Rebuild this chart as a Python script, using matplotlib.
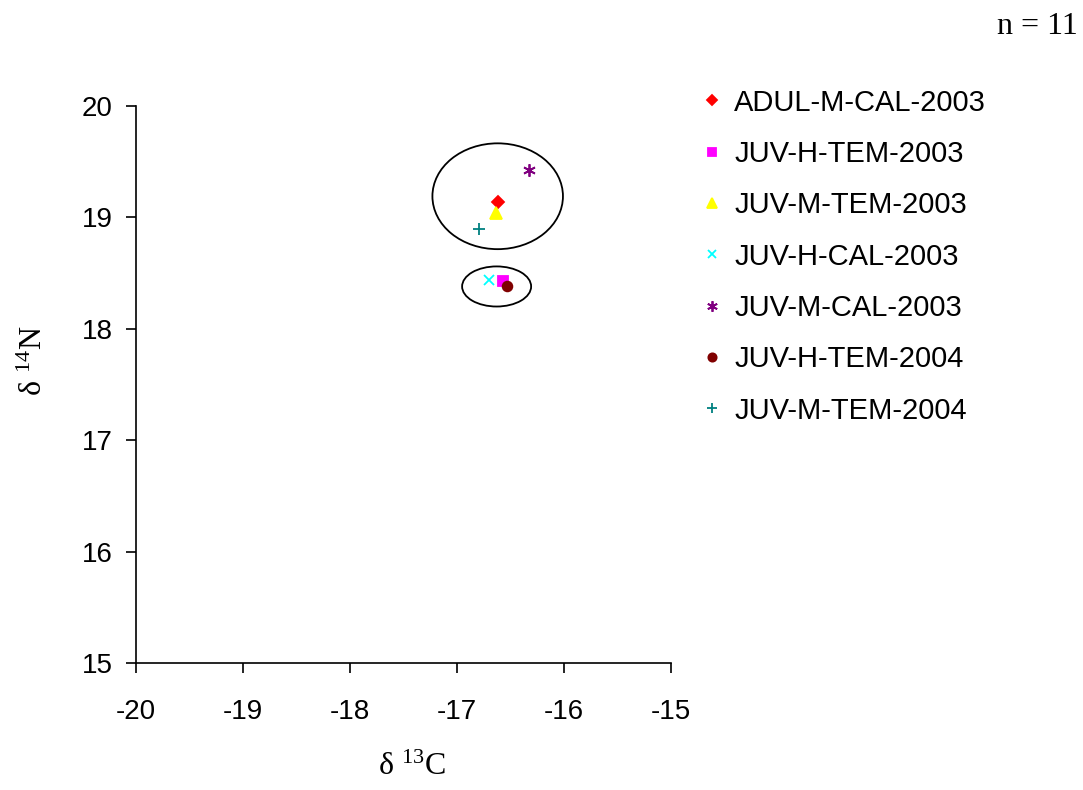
import matplotlib
matplotlib.use("Agg")
import matplotlib.pyplot as plt
from matplotlib.patches import Ellipse

plt.rcParams['font.family'] = 'Liberation Sans'
plt.rcParams['axes.unicode_minus'] = False
plt.rcParams['mathtext.fontset'] = 'custom'
plt.rcParams['mathtext.rm'] = 'Liberation Serif'
plt.rcParams['mathtext.it'] = 'Liberation Serif'

# data (delta 13C, delta 14N)
labels = ["ADUL-M-CAL-2003", "JUV-H-TEM-2003", "JUV-M-TEM-2003", "JUV-H-CAL-2003",
          "JUV-M-CAL-2003", "JUV-H-TEM-2004", "JUV-M-TEM-2004"]
c13 = [-16.62, -16.57, -16.64, -16.70, -16.33, -16.53, -16.79]
n14 = [19.14, 18.43, 19.04, 18.44, 19.43, 18.38, 18.90]
colors = ["#ff0000", "#ff00ff", "#ffff00", "#00ffff", "#800080", "#800000", "#008080"]
markers = ["D", "s", "^", "x", (6, 2, 0), "o", "+"]
sizes = [6, 7, 9, 7, 9, 7, 8]

# group ellipses: center x, center y, width, height
ell_x = [-16.62, -16.63]
ell_y = [19.19, 18.38]
ell_w = [1.22, 0.645]
ell_h = [0.95, 0.36]

fig = plt.figure(figsize=(10.83, 7.9), dpi=100)
ax = fig.add_axes([0.1256, 0.1608, 0.494, 0.705])

for i in range(len(labels)):
    ax.plot(c13[i], n14[i], linestyle='none', marker=markers[i], color=colors[i],
            markersize=sizes[i], markeredgewidth=1.3, label=labels[i])

for i in range(len(ell_x)):
    ax.add_patch(Ellipse((ell_x[i], ell_y[i]), ell_w[i], ell_h[i],
                         fill=False, edgecolor='black', linewidth=1.3))

ax.set_xlim(-20, -15)
ax.set_ylim(15, 20)
ax.set_xticks([-20, -19, -18, -17, -16, -15])
ax.set_yticks([15, 16, 17, 18, 19, 20])
ax.spines['top'].set_visible(False)
ax.spines['right'].set_visible(False)
for s in ['left', 'bottom']:
    ax.spines[s].set_linewidth(1.2)
ax.tick_params(direction='out', length=7, width=1.2, labelsize=20)
ax.tick_params(axis='x', pad=19)
ax.tick_params(axis='y', pad=10)

fig.text(0.380, 0.028, r"δ $^{13}$C", fontsize=23, family='Liberation Serif',
         ha='center', va='center')
fig.text(0.032, 0.543, r"δ $^{14}$N", fontsize=23, family='Liberation Serif',
         ha='center', va='center', rotation=90)

fig.text(0.995, 0.966, "n = 11", fontsize=23, family='Liberation Serif', ha='right', va='center')

fig.legend(loc='upper left', bbox_to_anchor=(0.639, 0.9025), frameon=False,
           fontsize=21, labelspacing=0.8, handlelength=0.6, handletextpad=0.45,
           markerscale=0.85, borderaxespad=0)

fig.savefig("out.png", dpi=100)
